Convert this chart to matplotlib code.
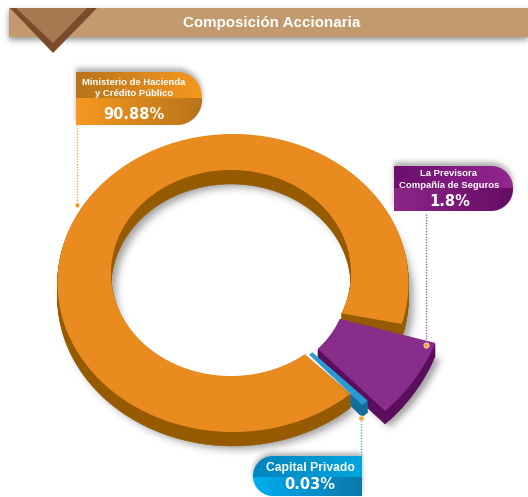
import numpy as np
import matplotlib
matplotlib.use('Agg')
from matplotlib import pyplot as plt
from matplotlib.path import Path
from matplotlib.patches import Polygon, PathPatch
from matplotlib.colors import to_rgb

# data
title = 'Composición Accionaria'
holders = ['Ministerio de Hacienda\ny Crédito Público', 'La Previsora\nCompañía de Seguros', 'Capital Privado']
shares = ['90.88%', '1.8%', '0.03%']
# the sweep each slice really has in the drawing, it is not proportional to the printed share
drawn_sweep = [328, 25.5, 2.2]

W, H = 528, 497
fig = plt.figure(figsize=(W / 100, H / 100), dpi=100)
ax = fig.add_axes([0, 0, 1, 1])
ax.axis('off')

CX, CY, RX, RY = 233, 283, 175.5, 149
ICX, ICY, IRX, IRY = 231, 273, 120, 103

NARROW = ['Liberation Sans Narrow', 'Liberation Sans']
WIDE = ['DejaVu Sans']

grid_x, grid_y = np.meshgrid(np.arange(W) + .5, np.arange(H) + .5)
grid = np.column_stack([grid_x.ravel(), grid_y.ravel()])


def arc(t0, t1, cx=CX, cy=CY, rx=RX, ry=RY, r=1.0, n=None):
    n = n or max(int(abs(t1 - t0)) * 2, 6)
    t = np.radians(np.linspace(t0, t1, n))
    return np.column_stack([cx + r * rx * np.cos(t), cy + r * ry * np.sin(t)])


def blur(a, sigma):
    x = np.arange(-int(3 * sigma), int(3 * sigma) + 1)
    k = np.exp(-x ** 2 / (2 * sigma ** 2))
    k /= k.sum()
    a = np.apply_along_axis(lambda v: np.convolve(v, k, mode='same'), 0, a)
    return np.apply_along_axis(lambda v: np.convolve(v, k, mode='same'), 1, a)


def shadow(pts, dx, dy, sigma=4, alpha=.5, z=1):
    mask = Path(pts + [dx, dy]).contains_points(grid).reshape(H, W).astype(float)
    img = np.zeros((H, W, 4))
    img[..., :3] = .25
    img[..., 3] = blur(mask, sigma) * alpha
    ax.imshow(img, extent=(0, W, H, 0), aspect='auto', zorder=z, interpolation='bilinear')


def extrude(pts, depth, wall, face, z):
    for d in np.arange(1, depth + .5, 1):
        ax.add_patch(Polygon(pts + [0, d], closed=True, fc=wall, ec=wall, lw=.4, zorder=z))
    if face:
        ax.add_patch(Polygon(pts, closed=True, fc=face, ec='none', zorder=z + .1))


def half_pill(x0, x1, y0, y1, r, side, split, top_cols, bot_cols, z=6):
    # side: where the corners are rounded
    if side == 'right':
        pts = np.vstack([[[x0, y1], [x0, y0]],
                         arc(-90, 0, x1 - r, y0 + r, r, r),
                         arc(0, 90, x1 - r, y1 - r, r, r)])
    else:
        pts = np.vstack([[[x1, y0], [x1, y1]],
                         arc(90, 180, x0 + r, y1 - r, r, r),
                         arc(180, 270, x0 + r, y0 + r, r, r)])
    shadow(pts, 0, -4 if side == 'right' else -3, sigma=2.5, alpha=.4, z=z - 1)
    path = Path(np.vstack([pts, pts[:1]]), closed=True)
    for cols, a, b in [(top_cols, y0, split), (bot_cols, split, y1)]:
        c0, c1 = np.array(to_rgb(cols[0])), np.array(to_rgb(cols[1]))
        ramp = np.linspace(0, 1, 80)[None, :, None]
        img = c0[None, None, :] * (1 - ramp) + c1[None, None, :] * ramp
        im = ax.imshow(img, extent=(x0, x1, b, a), aspect='auto', zorder=z, interpolation='bilinear')
        im.set_clip_path(PathPatch(path, transform=ax.transData))


# banner
banner = np.array([[9, 8], [W, 8], [W, 37], [9, 37]])
shadow(banner, 0, 3, sigma=3, alpha=.55, z=1)
ax.add_patch(Polygon(banner, closed=True, fc='#c39a6d', ec='none', zorder=2))
ax.add_patch(Polygon([[10, 8], [97, 8], [53, 53]], closed=True, fc='#7b4c2c', ec='none', zorder=3))
ax.add_patch(Polygon([[16, 8], [87, 8], [53, 43]], closed=True, fc='#a57a50', ec='none', zorder=3))
ax.text(271.5, 22.5, title, color='white', fontsize=10.9, fontweight='bold', family='Liberation Sans',
        ha='center', va='center', zorder=4)

# big slice, the inner edge sits on its own ellipse
start = 48
end = start + drawn_sweep[0]
orange = np.vstack([arc(start, end), arc(end + 7, start + 4, ICX, ICY, IRX, IRY)])
shadow(orange, 5, 17, sigma=4, alpha=.5, z=1)
extrude(orange, 14, '#965a00', '#e98b1e', 2.5)

# purple slice pulled out of the ring
mid = 32
purple = np.vstack([arc(mid - drawn_sweep[1] / 2, mid + drawn_sweep[1] / 2, r=1.22),
                    arc(mid + drawn_sweep[1] * .41, mid - drawn_sweep[1] * .41, r=.655)])
shadow(purple, 5, 16, sigma=3.5, alpha=.5, z=3.3)
extrude(purple, 13, '#5a0d5c', '#882d8a', 3.5)

# thin slice, on top of the others, only its end wall shows past the ring
b0, b1 = start - drawn_sweep[2], start
blue_end = np.vstack([arc(b0, b1, r=1.10, n=6), arc(b1, b0, r=1.0, n=6)])
extrude(blue_end, 12, '#136f9a', None, 3.7)
blue = np.vstack([arc(b0, b1, r=1.10, n=6), arc(b1, b0, r=.648, n=6)])
ax.add_patch(Polygon(blue, closed=True, fc='#2a9bd1', ec='none', zorder=3.8))

# labels
half_pill(76, 202, 72, 125, 25, 'right', 98.5, ('#b8741a', '#f7981f'), ('#f7981f', '#b8741a'))
half_pill(394, 513, 166, 211, 22, 'right', 188, ('#6d0f6f', '#93288f'), ('#8d2687', '#650c66'))
half_pill(253, 362, 456, 496, 20, 'left', 477, ('#0085bb', '#00a5e0'), ('#00aeef', '#0a78aa'))

for name, share, nx, ny, sx, sy in [(holders[0], shares[0], 134, 88, 134, 114.5),
                                    (holders[1], shares[1], 449, 179.5, 450, 202),
                                    (holders[2], shares[2], 310, 468, 310, 484.5)]:
    ax.text(nx, ny, name, color='white', fontsize=6.8 if name != holders[2] else 8.7,
            fontweight='bold', family=NARROW, ha='center', va='center', linespacing=1.35, zorder=8)
    ax.text(sx, sy, share, color='white', fontsize=10.5, fontweight='bold', family=WIDE,
            ha='center', va='center', zorder=8)

# leaders
for x, y0, y1, col in [(76.5, 125, 205, '#f7981f'), (426, 214, 345, '#a03da0'), (361, 418, 456, '#2aa9d6')]:
    ax.plot([x, x], [y0, y1], color=col, lw=.9, ls=(0, (1, 1.2)), zorder=7)
ax.scatter([76.5], [205], s=9, color='#f7981f', linewidths=0, zorder=7)
ax.scatter([426, 361], [345, 418], s=14, color='#f7a83a', edgecolors='#f6e3c8', linewidths=.6, zorder=7)

ax.set_xlim(0, W)
ax.set_ylim(H, 0)
fig.savefig('out.png', dpi=100, facecolor='white')
